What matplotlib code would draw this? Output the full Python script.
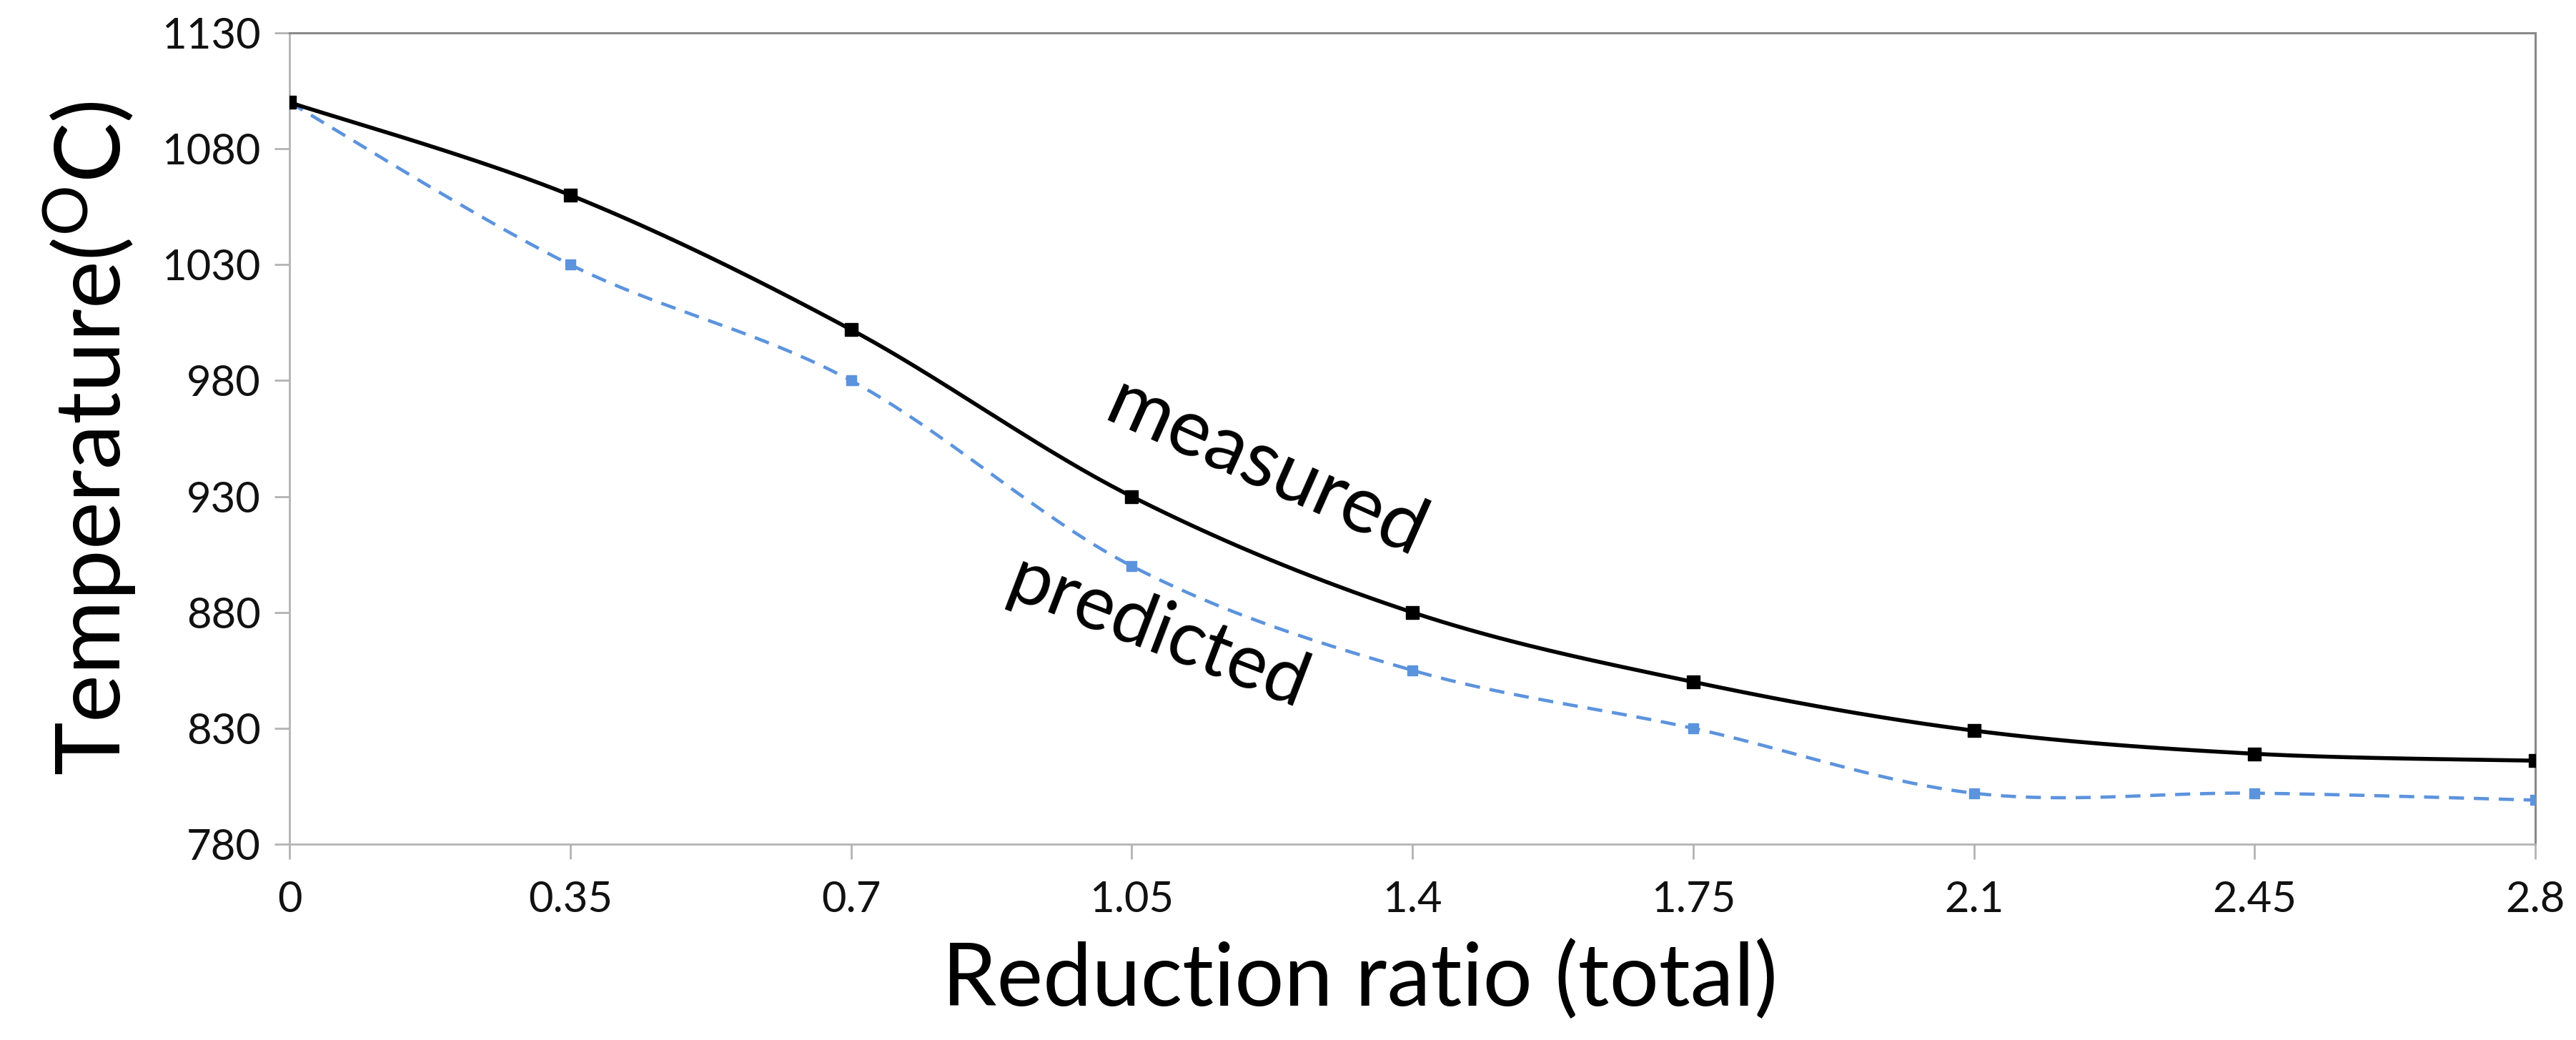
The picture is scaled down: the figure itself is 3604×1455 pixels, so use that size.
import numpy as np
import matplotlib
matplotlib.use("Agg")
import matplotlib.pyplot as plt

# values
reduction = [0, 0.35, 0.7, 1.05, 1.4, 1.75, 2.1, 2.45, 2.8]
measured = [1100, 1060, 1002, 930, 880, 850, 829, 819, 816]
predicted = [1100, 1030, 980, 900, 855, 830, 802, 802, 799]
xtick_labels = ["0", "0.35", "0.7", "1.05", "1.4", "1.75", "2.1", "2.45", "2.8"]
yticks = [780, 830, 880, 930, 980, 1030, 1080, 1130]

FONT = "Lato"
plt.rcParams["font.family"] = [FONT, "DejaVu Sans"]
plt.rcParams["mathtext.fontset"] = "custom"
plt.rcParams["mathtext.rm"] = FONT
plt.rcParams["mathtext.it"] = FONT + ":italic"


def smooth(xs, ys, n=40):
    # Excel style smoothed line: cubic bezier with catmull-rom control points
    xs = np.asarray(xs, float)
    ys = np.asarray(ys, float)
    px = np.concatenate([[xs[0]], xs, [xs[-1]]])
    py = np.concatenate([[ys[0]], ys, [ys[-1]]])
    outx, outy = [], []
    t = np.linspace(0, 1, n)
    for i in range(1, len(px) - 2):
        p0 = np.array([px[i - 1], py[i - 1]])
        p1 = np.array([px[i], py[i]])
        p2 = np.array([px[i + 1], py[i + 1]])
        p3 = np.array([px[i + 2], py[i + 2]])
        c1 = p1 + (p2 - p0) / 6
        c2 = p2 - (p3 - p1) / 6
        b = ((1 - t) ** 3)[:, None] * p1 + (3 * (1 - t) ** 2 * t)[:, None] * c1 \
            + (3 * (1 - t) * t ** 2)[:, None] * c2 + (t ** 3)[:, None] * p2
        outx.extend(b[:, 0])
        outy.extend(b[:, 1])
    return outx, outy


fig = plt.figure(figsize=(36.04, 14.55), dpi=100)
ax = fig.add_axes([0.1124, 0.1883, 0.8718, 0.7801])

blue = "#5C93DD"
sx, sy = smooth(reduction, predicted)
ax.plot(sx, sy, color=blue, lw=3.3, dashes=(4.6, 3.0), zorder=2)
ax.plot(reduction, predicted, ls="none", marker="s", ms=10, color=blue, zorder=3)

sx, sy = smooth(reduction, measured)
ax.plot(sx, sy, color="black", lw=4.0, zorder=4)
ax.plot(reduction, measured, ls="none", marker="s", ms=13, color="black", zorder=5)

ax.set_xlim(0, 2.8)
ax.set_ylim(780, 1130)
ax.set_xticks(reduction)
ax.set_xticklabels(xtick_labels)
ax.set_yticks(yticks)
ax.tick_params(axis="both", labelsize=43, length=15, width=2, color="#b3b3b3",
               labelcolor="#111111")
ax.tick_params(axis="x", pad=22)
ax.tick_params(axis="y", pad=14)

for side in ["left", "bottom"]:
    ax.spines[side].set_color("#b3b3b3")
    ax.spines[side].set_linewidth(2)
for side in ["top", "right"]:
    ax.spines[side].set_color("#8a8a8a")
    ax.spines[side].set_linewidth(2.2)

ax.set_ylabel(r"Temperature($^{\mathrm{O}}$C)", fontsize=91, labelpad=24)
ax.set_xlabel("Reduction ratio (total)", fontsize=88, labelpad=14)
ax.xaxis.set_label_coords(0.4765, -0.118)

ax.text(1.217, 942, "measured", fontsize=80, rotation=-24, ha="center", va="center")
ax.text(1.083, 871, "predicted", fontsize=76, rotation=-21, ha="center", va="center")

fig.savefig("out.png", dpi=100)
